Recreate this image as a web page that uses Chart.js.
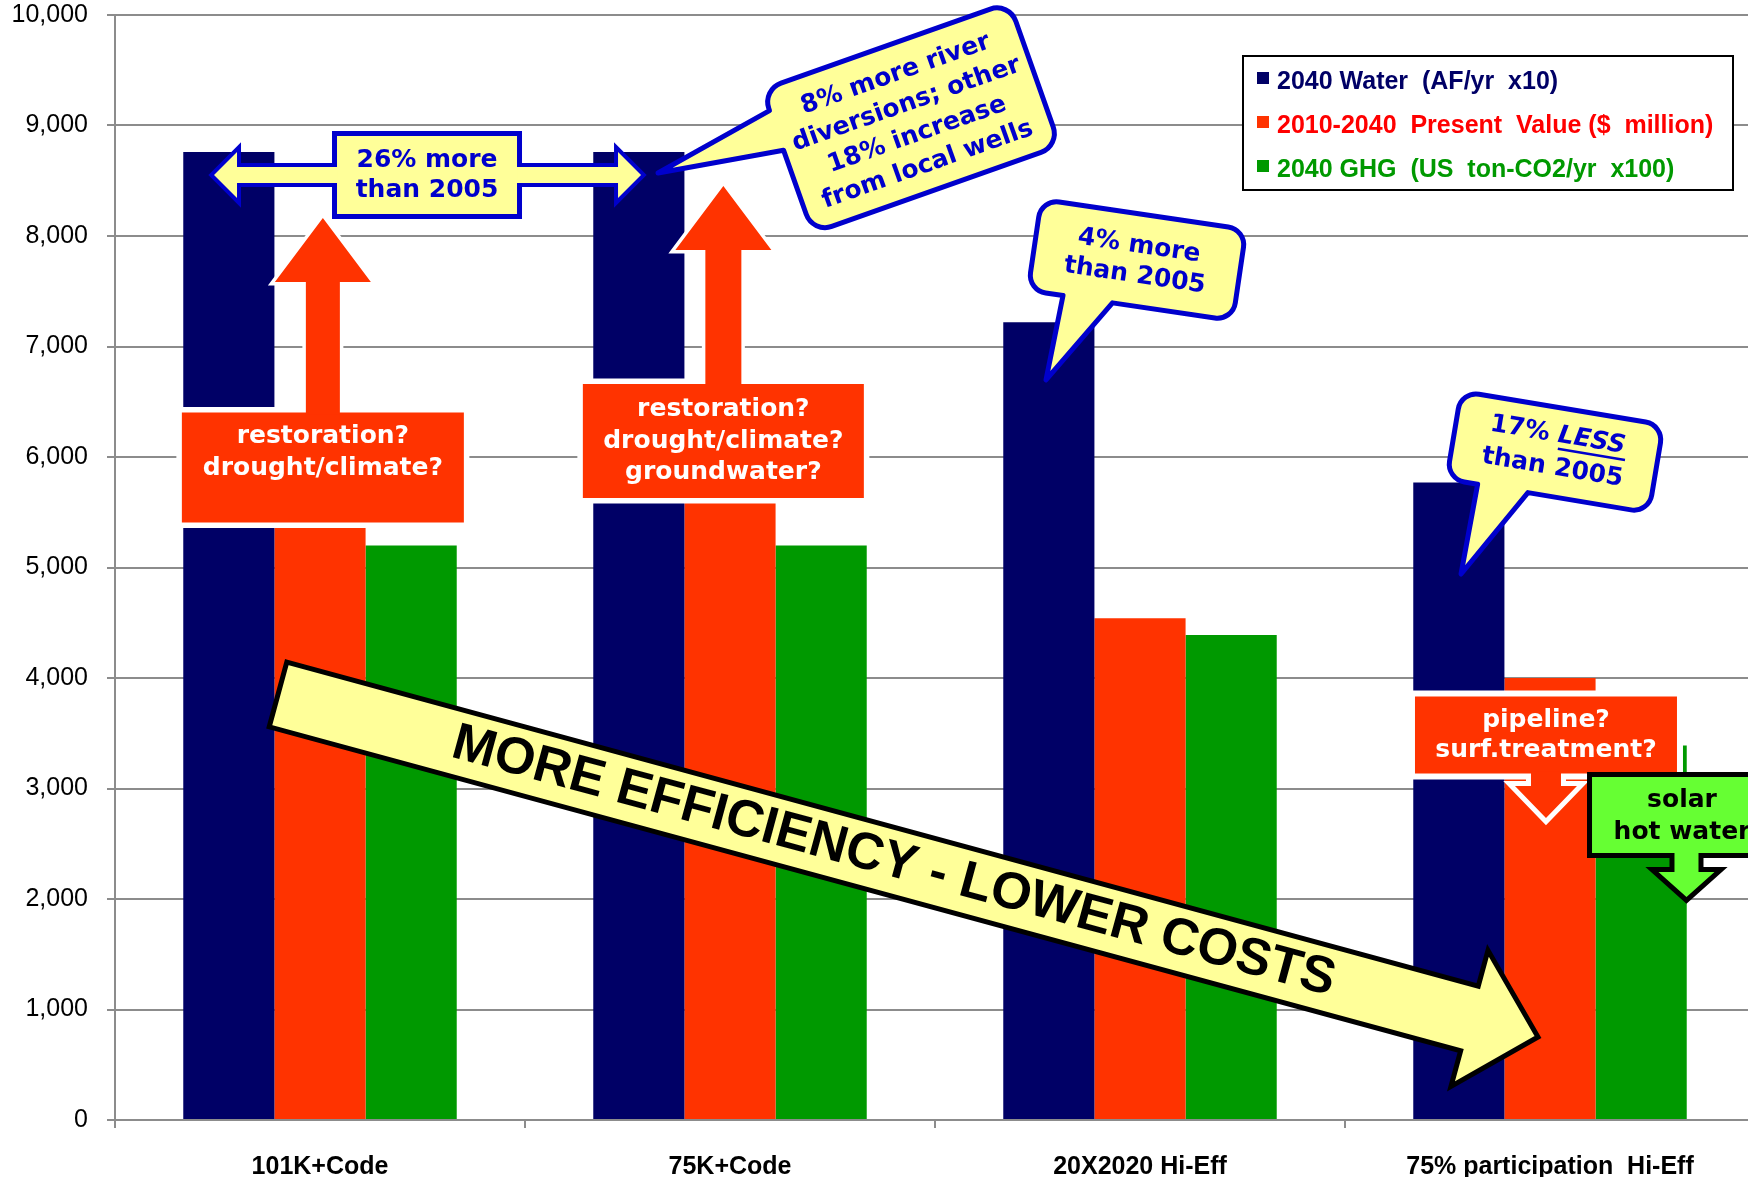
<!DOCTYPE html>
<html>
<head>
<meta charset="utf-8">
<title>2040 water, cost and GHG by scenario</title>
<script src="https://cdn.jsdelivr.net/npm/chart.js@4.4.1/dist/chart.umd.min.js"></script>
<style>
  html, body { margin: 0; padding: 0; background: #ffffff; overflow: hidden; }
  canvas { display: block; }
</style>
</head>
<body>
<canvas id="chart" width="1760" height="1177"></canvas>
<script>
// scenarios on the x axis
const categories = ['101K+Code', '75K+Code', '20X2020 Hi-Eff', '75% participation  Hi-Eff'];

// series names, as in the legend box
const seriesLabels = [
  '2040 Water  (AF/yr  x10)',
  '2010-2040  Present  Value ($  million)',
  '2040 GHG  (US  ton-CO2/yr  x100)'
];

// values
const water2040 = [8760, 8760, 7220, 5770];
const presentValue = [5400, 5600, 4540, 4000];
const ghg2040 = [5200, 5200, 4390, 3390];

// y axis
const yMin = 0;
const yMax = 10000;
const yStep = 1000;

const barColors = ['#000066', '#ff3300', '#009900'];
const legendTextColors = ['#000066', '#ff0000', '#009900'];

const YELLOW = '#ffff99';
const BLUE = '#0000cc';
const ORANGE = '#ff3300';
const LIME = '#66ff33';
const NOTE_FONT = 'bold 25px "DejaVu Sans", Verdana, sans-serif';
const SANS = '"Liberation Sans", Arial, sans-serif';

// annotation shapes: u = category units (0 = first category centre), v = axis value, sizes in px
const spreadNote = { u: 0.261, v: 8552, w: 180, h: 78, left: -0.2585, right: 0.783,
  shaft: 8, head: 23, headLen: 23, lines: ['26% more', 'than 2005'], offsets: [-15, 15] };

const upBoxes = [
  { u: 0.007, v: 5905, w: 282, h: 110, arrowU: 0.007, tipV: 8163, headLen: 64, shaft: 17, head: 48,
    lines: ['restoration?', 'drought/climate?'], offsets: [-31, 1] },
  { u: 0.9838, v: 6145, w: 281, h: 114, arrowU: 0.9838, tipV: 8453, headLen: 64, shaft: 18, head: 48,
    lines: ['restoration?', 'drought/climate?', 'groundwater?'], offsets: [-31, 1, 32] }
];

const pipelineBox = { u: 2.9902, v: 3484, w: 262, h: 77, arrowU: 2.9902, tipV: 2733, headLen: 32, shaft: 15, head: 31,
  lines: ['pipeline?', 'surf.treatment?'], offsets: [-15, 15] };
const solarBox = { u: 3.322, v: 2760, w: 180, h: 76, arrowU: 3.3329, tipV: 2018, headLen: 25, shaft: 12, head: 28,
  lines: ['solar', 'hot water'], offsets: [-15, 17] };

const callouts = [
  { u: 1.4415, v: 9070, w: 262, h: 152, r: 20, angle: -19.5, tip: [0.8244, 8570], edge: 'left', a: -54, b: -12,
    lines: ['8% more river', 'diversions; other', '18% increase', 'from local wells'], offsets: [-46, -14, 18, 50] },
  { u: 1.9927, v: 7783, w: 207, h: 92, r: 18, angle: 8.4, tip: [1.7707, 6697], edge: 'bottom', a: -68, b: -18,
    lines: ['4% more', 'than 2005'], offsets: [-14, 16] },
  { u: 3.0122, v: 6045, w: 205, h: 89, r: 18, angle: 9.5, tip: [2.783, 4941], edge: 'bottom', a: -71, b: -20,
    lines: [[{ t: '17% ' }, { t: 'LESS', italic: true, underline: true }], 'than 2005'], offsets: [-17, 16] }
];

const trendArrow = { from: [-0.1024, 3851], to: [2.9707, 751], shaft: 33.5, head: 70.5, headLen: 71,
  text: 'MORE EFFICIENCY - LOWER COSTS', textAt: 638, textShift: -4 };

function textLines(ctx, lines, x, y, offsets, font, color) {
  ctx.font = font;
  ctx.fillStyle = color;
  ctx.textAlign = 'center';
  ctx.textBaseline = 'middle';
  lines.forEach((line, i) => {
    if (typeof line === 'string') {
      ctx.fillText(line, x, y + offsets[i]);
      return;
    }
    // mixed line (bold + bold italic underlined)
    const fonts = line.map(s => s.italic ? font.replace('bold', 'italic bold') : font);
    const widths = line.map((s, k) => { ctx.font = fonts[k]; return ctx.measureText(s.t).width; });
    let cx = x - widths.reduce((p, q) => p + q, 0) / 2;
    ctx.textAlign = 'left';
    line.forEach((s, k) => {
      ctx.font = fonts[k];
      ctx.fillText(s.t, cx, y + offsets[i]);
      if (s.underline) ctx.fillRect(cx + 2, y + offsets[i] + 12, widths[k], 2.5);
      cx += widths[k];
    });
    ctx.textAlign = 'center';
    ctx.font = font;
  });
}

function calloutPath(ctx, hw, hh, r, c, tx, ty) {
  ctx.beginPath();
  ctx.moveTo(-hw + r, -hh);
  ctx.lineTo(hw - r, -hh);
  ctx.arcTo(hw, -hh, hw, -hh + r, r);
  ctx.lineTo(hw, hh - r);
  ctx.arcTo(hw, hh, hw - r, hh, r);
  if (c.edge === 'bottom') {
    ctx.lineTo(c.b, hh);
    ctx.lineTo(tx, ty);
    ctx.lineTo(c.a, hh);
  }
  ctx.lineTo(-hw + r, hh);
  ctx.arcTo(-hw, hh, -hw, hh - r, r);
  if (c.edge === 'left') {
    ctx.lineTo(-hw, c.b);
    ctx.lineTo(tx, ty);
    ctx.lineTo(-hw, c.a);
  }
  ctx.lineTo(-hw, -hh + r);
  ctx.arcTo(-hw, -hh, -hw + r, -hh, r);
  ctx.closePath();
}

function drawCallout(ctx, X, Y, c) {
  const cx = X(c.u), cy = Y(c.v);
  const ang = c.angle * Math.PI / 180;
  const dx = X(c.tip[0]) - cx, dy = Y(c.tip[1]) - cy;
  const tx = dx * Math.cos(ang) + dy * Math.sin(ang);
  const ty = -dx * Math.sin(ang) + dy * Math.cos(ang);
  ctx.save();
  ctx.translate(cx, cy);
  ctx.rotate(ang);
  calloutPath(ctx, c.w / 2, c.h / 2, c.r, c, tx, ty);
  ctx.fillStyle = YELLOW;
  ctx.fill();
  ctx.lineWidth = 5;
  ctx.lineJoin = 'round';
  ctx.strokeStyle = BLUE;
  ctx.stroke();
  textLines(ctx, c.lines, 0, 0, c.offsets, NOTE_FONT, BLUE);
  ctx.restore();
}

// box with a block arrow, outline drawn around the union of both
function drawBoxArrow(ctx, X, Y, b, fill, outline, boxLine, arrowLine, textColor) {
  const cx = X(b.u), cy = Y(b.v);
  const top = cy - b.h / 2, bottom = cy + b.h / 2;
  const ax = X(b.arrowU), tip = Y(b.tipV);
  const up = tip < top;
  const root = up ? top + 2 : bottom - 2;
  const base = up ? tip + b.headLen : tip - b.headLen;
  const box = new Path2D();
  box.rect(cx - b.w / 2, top, b.w, b.h);
  const arrow = new Path2D();
  arrow.moveTo(ax - b.shaft, root);
  arrow.lineTo(ax - b.shaft, base);
  arrow.lineTo(ax - b.head, base);
  arrow.lineTo(ax, tip);
  arrow.lineTo(ax + b.head, base);
  arrow.lineTo(ax + b.shaft, base);
  arrow.lineTo(ax + b.shaft, root);
  arrow.closePath();
  ctx.save();
  ctx.strokeStyle = outline;
  ctx.lineJoin = 'miter';
  ctx.lineWidth = boxLine;
  ctx.stroke(box);
  ctx.lineWidth = arrowLine;
  ctx.stroke(arrow);
  ctx.fillStyle = fill;
  ctx.fill(box);
  ctx.fill(arrow);
  textLines(ctx, b.lines, cx, cy, b.offsets, NOTE_FONT, textColor);
  ctx.restore();
}

function drawSpread(ctx, X, Y, s) {
  const cy = Y(s.v), bx = X(s.u), lx = X(s.left), rx = X(s.right);
  const p = new Path2D();
  p.moveTo(lx, cy);
  p.lineTo(lx + s.headLen, cy - s.head);
  p.lineTo(lx + s.headLen, cy - s.shaft);
  p.lineTo(rx - s.headLen, cy - s.shaft);
  p.lineTo(rx - s.headLen, cy - s.head);
  p.lineTo(rx, cy);
  p.lineTo(rx - s.headLen, cy + s.head);
  p.lineTo(rx - s.headLen, cy + s.shaft);
  p.lineTo(lx + s.headLen, cy + s.shaft);
  p.lineTo(lx + s.headLen, cy + s.head);
  p.closePath();
  const box = new Path2D();
  box.rect(bx - s.w / 2, cy - s.h / 2, s.w, s.h);
  ctx.save();
  ctx.strokeStyle = BLUE;
  ctx.lineJoin = 'miter';
  ctx.lineWidth = 8;
  ctx.stroke(p);
  ctx.lineWidth = 10;
  ctx.stroke(box);
  ctx.fillStyle = YELLOW;
  ctx.fill(p);
  ctx.fill(box);
  textLines(ctx, s.lines, bx, cy, s.offsets, NOTE_FONT, BLUE);
  ctx.restore();
}

function drawTrend(ctx, X, Y, a) {
  const sx = X(a.from[0]), sy = Y(a.from[1]);
  const tx = X(a.to[0]), ty = Y(a.to[1]);
  const len = Math.hypot(tx - sx, ty - sy);
  ctx.save();
  ctx.translate(sx, sy);
  ctx.rotate(Math.atan2(ty - sy, tx - sx));
  ctx.beginPath();
  ctx.moveTo(0, -a.shaft);
  ctx.lineTo(len - a.headLen, -a.shaft);
  ctx.lineTo(len - a.headLen, -a.head);
  ctx.lineTo(len, 0);
  ctx.lineTo(len - a.headLen, a.head);
  ctx.lineTo(len - a.headLen, a.shaft);
  ctx.lineTo(0, a.shaft);
  ctx.closePath();
  ctx.fillStyle = YELLOW;
  ctx.fill();
  ctx.lineWidth = 5;
  ctx.lineJoin = 'miter';
  ctx.strokeStyle = '#000000';
  ctx.stroke();
  ctx.font = 'bold 52px ' + SANS;
  ctx.fillStyle = '#000000';
  ctx.textAlign = 'center';
  ctx.textBaseline = 'alphabetic';
  ctx.fillText(a.text, a.textAt, a.textShift + 52 * 0.358);
  ctx.restore();
}

const notesPlugin = {
  id: 'notes',
  afterDatasetsDraw(chart) {
    const ctx = chart.ctx;
    const xs = chart.scales.x, ys = chart.scales.y;
    const x0 = xs.getPixelForValue(0);
    const step = xs.getPixelForValue(1) - x0;
    const X = u => x0 + u * step;
    const Y = v => ys.getPixelForValue(v);
    ctx.save();
    drawTrend(ctx, X, Y, trendArrow);
    upBoxes.forEach(b => drawBoxArrow(ctx, X, Y, b, ORANGE, '#ffffff', 11, 7, '#ffffff'));
    drawSpread(ctx, X, Y, spreadNote);
    callouts.forEach(c => drawCallout(ctx, X, Y, c));
    drawBoxArrow(ctx, X, Y, pipelineBox, ORANGE, '#ffffff', 12, 10, '#ffffff');
    drawBoxArrow(ctx, X, Y, solarBox, LIME, '#000000', 10, 10, '#000000');
    ctx.restore();
  }
};

// legend box sitting inside the plot, top right
const legendPlugin = {
  id: 'boxLegend',
  afterDraw(chart) {
    const ctx = chart.ctx;
    const left = 1243, top = 56, width = 490, height = 134;
    const rows = [80, 124, 168];
    ctx.save();
    ctx.fillStyle = '#ffffff';
    ctx.fillRect(left, top, width, height);
    ctx.strokeStyle = '#000000';
    ctx.lineWidth = 2;
    ctx.strokeRect(left, top, width, height);
    ctx.font = 'bold 25px ' + SANS;
    ctx.textAlign = 'left';
    ctx.textBaseline = 'alphabetic';
    chart.data.datasets.forEach((ds, i) => {
      ctx.fillStyle = ds.backgroundColor;
      ctx.fillRect(1257, rows[i] - 8, 12, 12);
      ctx.fillStyle = legendTextColors[i];
      ctx.fillText(ds.label, 1277, rows[i] + 9);
    });
    ctx.restore();
  }
};

new Chart(document.getElementById('chart'), {
  type: 'bar',
  data: {
    labels: categories,
    datasets: [
      { label: seriesLabels[0], data: water2040, backgroundColor: barColors[0] },
      { label: seriesLabels[1], data: presentValue, backgroundColor: barColors[1] },
      { label: seriesLabels[2], data: ghg2040, backgroundColor: barColors[2] }
    ]
  },
  options: {
    responsive: false,
    animation: false,
    devicePixelRatio: 1,
    datasets: { bar: { categoryPercentage: 0.667, barPercentage: 1.0, borderWidth: 0 } },
    layout: { padding: { top: 15, right: 5, bottom: 0, left: 0 } },
    plugins: { legend: { display: false }, tooltip: { enabled: false } },
    scales: {
      x: {
        grid: { display: true, drawOnChartArea: false, drawTicks: true, tickLength: 8, offset: true,
                color: '#8c8c8c', lineWidth: 2 },
        border: { color: '#8c8c8c', width: 2 },
        ticks: { font: { family: SANS, size: 25, weight: 'bold' }, color: '#000000',
                 padding: 24, maxRotation: 0, autoSkip: false },
        afterFit: s => { s.height = 57; s.paddingLeft = 0; s.paddingRight = 0; }
      },
      y: {
        min: yMin,
        max: yMax,
        grid: { color: '#8c8c8c', lineWidth: 2, tickLength: 8 },
        border: { color: '#8c8c8c', width: 2 },
        ticks: { stepSize: yStep, font: { family: SANS, size: 25 }, color: '#000000', padding: 19,
                 callback: v => v.toLocaleString('en-US') },
        // keep the plot top at the 10,000 line position of the original
        afterFit: s => { s.width = 115; s.paddingTop = 0; s.paddingBottom = 0; }
      }
    }
  },
  plugins: [notesPlugin, legendPlugin]
});
</script>
</body>
</html>
